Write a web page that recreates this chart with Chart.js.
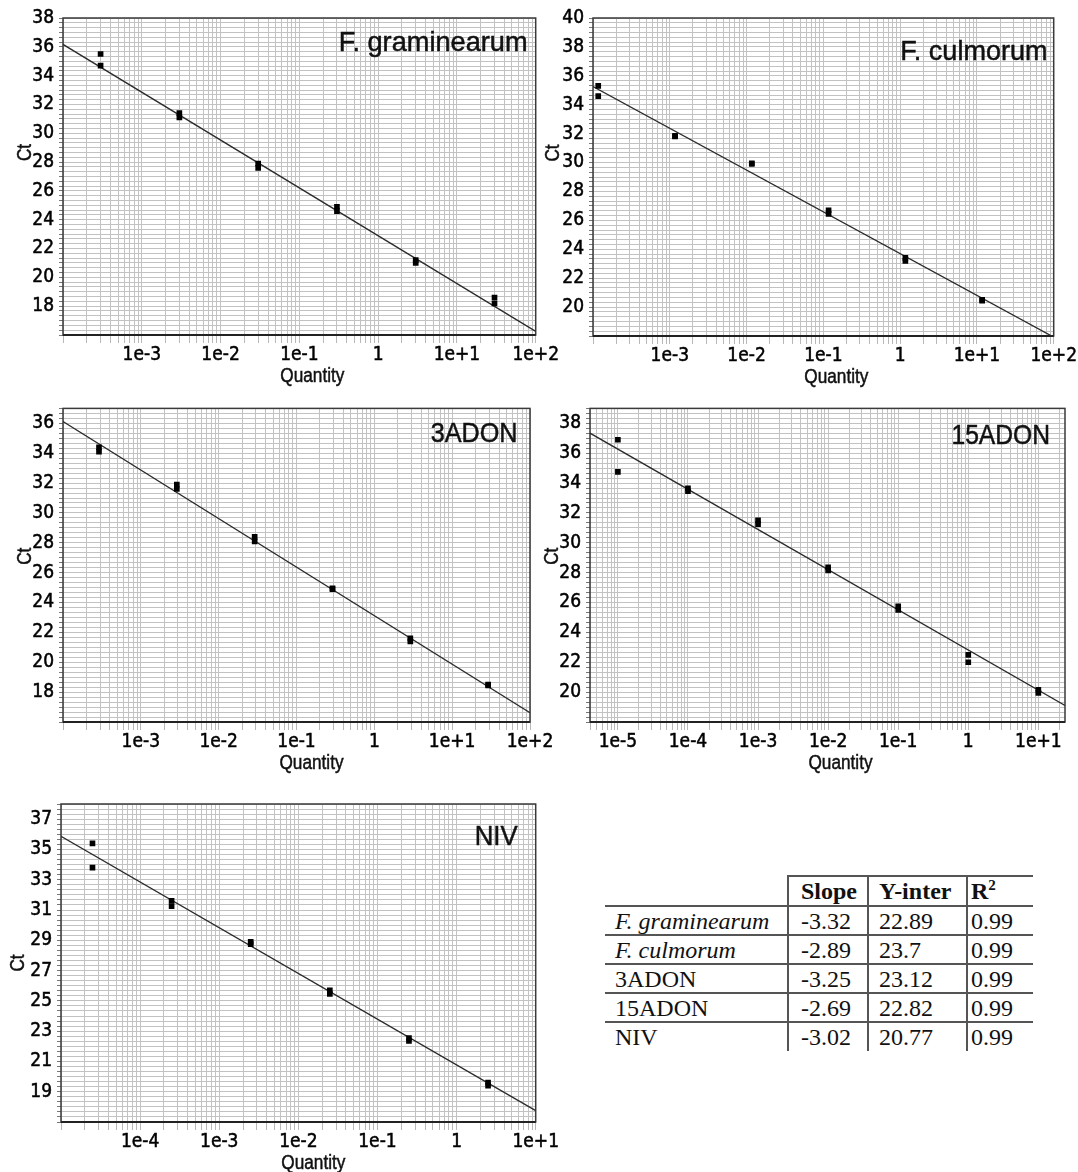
<!DOCTYPE html>
<html>
<head>
<meta charset="utf-8">
<script src="https://cdn.jsdelivr.net/npm/chart.js@4.4.1/dist/chart.umd.min.js"></script>
<style>
  html, body { margin: 0; padding: 0; background: #ffffff; }
  body { width: 1078px; height: 1172px; position: relative; overflow: hidden; }
  canvas { position: absolute; }
  .ptitle { position: absolute; color: #111; white-space: nowrap; line-height: 1; transform-origin: right center;
            -webkit-text-stroke: 0.5px #111; }
  #tbl { position: absolute; left: 605px; top: 875px; border-collapse: collapse; table-layout: fixed;
         font-family: 'Liberation Serif', 'Times New Roman', serif; font-size: 24px; color: #111; }
  #tbl td { padding: 0; height: 27px; border-top: 2px solid #555; border-left: 2px solid #555;
            vertical-align: middle; white-space: nowrap; line-height: 1; overflow: visible; }
  #tbl td.c1 { border-left: none; padding-left: 10px; }
  #tbl td.c2 { padding-left: 12px; }
  #tbl td.c3 { padding-left: 10px; }
  #tbl td.c4 { padding-left: 3px; }
  #tbl tr.hdr td { height: 28px; font-weight: bold; }
  #tbl tr.hdr td.c1 { border-top: none; }
  #tbl tr.last td { height: 28px; }
  #tbl sup { font-size: 15px; vertical-align: 9px; line-height: 0; }
</style>
</head>
<body>
<script>
// ---------------- data ----------------
const panelNames = ['F. graminearum', 'F. culmorum', '3ADON', '15ADON', 'NIV'];
const tableItalic = [true, true, false, false, false];
const slopes = [-3.32, -2.89, -3.25, -2.69, -3.02];
const intercepts = [22.89, 23.7, 23.12, 22.82, 20.77];
const r2 = ['0.99', '0.99', '0.99', '0.99', '0.99'];

const gramQty = [3e-4, 3e-4, 3e-3, 3e-3, 3e-2, 3e-2, 3e-1, 3e-1, 3, 3, 30, 30];
const gramCt  = [35.5, 34.7, 31.4, 31.1, 27.9, 27.6, 24.9, 24.6, 21.2, 21.0, 18.6, 18.2];

const culmQty = [1.17e-4, 1.17e-4, 1.17e-3, 1.17e-3, 1.17e-2, 1.17e-2, 1.17e-1, 1.17e-1, 1.17, 1.17, 11.7, 11.7];
const culmCt  = [35.3, 34.6, 31.85, 31.8, 29.95, 29.9, 26.7, 26.45, 23.4, 23.2, 20.5, 20.45];

const adon3Qty = [2.9e-4, 2.9e-4, 2.9e-3, 2.9e-3, 2.9e-2, 2.9e-2, 2.9e-1, 2.9e-1, 2.9, 2.9, 29, 29];
const adon3Ct  = [34.4, 34.1, 31.9, 31.6, 28.4, 28.1, 24.95, 24.9, 21.6, 21.4, 18.5, 18.45];

const adon15Qty = [1e-5, 1e-5, 1e-4, 1e-4, 1e-3, 1e-3, 1e-2, 1e-2, 1e-1, 1e-1, 1, 1, 10, 10];
const adon15Ct  = [36.9, 34.75, 33.65, 33.45, 31.5, 31.25, 28.35, 28.15, 25.75, 25.5, 22.5, 22.0, 20.15, 19.95];

const nivQty = [2.5e-5, 2.5e-5, 2.5e-4, 2.5e-4, 2.5e-3, 2.5e-3, 2.5e-2, 2.5e-2, 2.5e-1, 2.5e-1, 2.5, 2.5];
const nivCt  = [35.4, 33.8, 31.6, 31.25, 28.9, 28.75, 25.7, 25.45, 22.55, 22.35, 19.6, 19.4];

const gramYTicks   = [18, 20, 22, 24, 26, 28, 30, 32, 34, 36, 38];
const culmYTicks   = [20, 22, 24, 26, 28, 30, 32, 34, 36, 38, 40];
const adon3YTicks  = [18, 20, 22, 24, 26, 28, 30, 32, 34, 36];
const adon15YTicks = [20, 22, 24, 26, 28, 30, 32, 34, 36, 38];
const nivYTicks    = [19, 21, 23, 25, 27, 29, 31, 33, 35, 37];

const decadeTicks6   = [1e-3, 1e-2, 1e-1, 1, 1e1, 1e2];
const decadeLabels6  = ['1e-3', '1e-2', '1e-1', '1', '1e+1', '1e+2'];
const adon15XTicks   = [1e-5, 1e-4, 1e-3, 1e-2, 1e-1, 1, 1e1];
const adon15XLabels  = ['1e-5', '1e-4', '1e-3', '1e-2', '1e-1', '1', '1e+1'];
const nivXTicks      = [1e-4, 1e-3, 1e-2, 1e-1, 1, 1e1];
const nivXLabels     = ['1e-4', '1e-3', '1e-2', '1e-1', '1', '1e+1'];

const gramRange   = { x: [1e-4, 1e2], y: [16, 38] };
const culmRange   = { x: [1e-4, 1e2], y: [18, 40] };
const adon3Range  = { x: [1e-4, 1e2], y: [16, 37] };
const adon15Range = { x: [4e-6, 24],  y: [18, 39] };
const nivRange    = { x: [1e-5, 1e1], y: [17, 38] };

// ---------------- fonts ----------------
function hasFont(name) {
  const c = document.createElement('canvas').getContext('2d');
  const s = 'abcdefghijWWWmm0123';
  c.font = '40px monospace'; const a = c.measureText(s).width;
  c.font = '40px "' + name + '", monospace'; const b = c.measureText(s).width;
  return Math.abs(a - b) > 0.5;
}
const narrowName = ['Liberation Sans Narrow', 'Arial Narrow', 'Nimbus Sans Narrow', 'DejaVu Sans Condensed']
  .find(n => hasFont(n));
const SANS = '"Liberation Sans", Arial, sans-serif';
const TICK_FAMILY = narrowName ? '"' + narrowName + '", ' + SANS : SANS;
const TICK_SIZE = narrowName ? 19 : 17;

// ---------------- layout (page pixels) ----------------
const layouts = [
  { cL: 0,   cT: 0,   cW: 560, cH: 392, L: 63,  T: 18,  R: 537,  B: 335,  ctX: 25,  ctDy: -24, qDx: 13, tRight: 528,  tBase: 52,  tScale: 0.97 },
  { cL: 538, cT: 0,   cW: 540, cH: 392, L: 593, T: 18,  R: 1059, B: 336,  ctX: 553, ctDy: -24, qDx: 13, tRight: 1047, tBase: 61,  tScale: 0.965 },
  { cL: 0,   cT: 392, cW: 560, cH: 392, L: 63,  T: 405, R: 530,  B: 722,  ctX: 25,  ctDy: -9,  qDx: 15, tRight: 517,  tBase: 443, tScale: 0.90 },
  { cL: 538, cT: 392, cW: 540, cH: 392, L: 590, T: 405, R: 1065, B: 722,  ctX: 552, ctDy: -9,  qDx: 13, tRight: 1050, tBase: 445, tScale: 0.88 },
  { cL: 0,   cT: 784, cW: 560, cH: 388, L: 61,  T: 804, R: 536,  B: 1122, ctX: 18,  ctDy: 0,   qDx: 15, tRight: 518,  tBase: 846, tScale: 0.92 }
];

function logTicks(min, max) {
  const out = [];
  for (let e = Math.floor(Math.log10(min)); e <= Math.ceil(Math.log10(max)); e++) {
    for (let k = 1; k <= 9; k++) {
      const v = Number((k * Math.pow(10, e)).toPrecision(10));
      if (v >= min * (1 - 1e-9) && v <= max * (1 + 1e-9)) out.push(v);
    }
  }
  return out;
}

const framePlugin = {
  id: 'frame',
  beforeDatasetsDraw(chart) {
    const a = chart.chartArea, ctx = chart.ctx;
    ctx.save();
    ctx.strokeStyle = '#3a3a3a';
    ctx.lineWidth = 1.5;
    ctx.strokeRect(a.left, a.top, a.right - a.left, a.bottom - a.top);
    ctx.lineWidth = 2;
    ctx.strokeStyle = '#222';
    ctx.beginPath();
    ctx.moveTo(a.left, a.bottom); ctx.lineTo(a.right, a.bottom);
    ctx.stroke();
    ctx.restore();
  }
};

function heavyText(ctx, txt) {
  ctx.fillText(txt, 0, 0);
  ctx.lineWidth = 0.5;
  ctx.strokeStyle = '#111';
  ctx.strokeText(txt, 0, 0);
}

const axisTitlePlugin = {
  id: 'axisTitles',
  afterDraw(chart, args, opts) {
    const a = chart.chartArea, ctx = chart.ctx, lay = opts.lay;
    ctx.save();
    ctx.fillStyle = '#111';
    ctx.font = '20px ' + SANS;
    ctx.textAlign = 'center';
    ctx.textBaseline = 'middle';
    ctx.save();
    ctx.translate((a.left + a.right) / 2 + lay.qDx, a.bottom + 41);
    ctx.scale(0.86, 1);
    heavyText(ctx, 'Quantity');
    ctx.restore();
    ctx.translate(lay.ctX - lay.cL, (a.top + a.bottom) / 2 + lay.ctDy);
    ctx.rotate(-Math.PI / 2);
    ctx.scale(0.86, 1);
    heavyText(ctx, 'Ct');
    ctx.restore();
  }
};

function makePanel(i, qty, ct, range, yTickVals, xTickVals, xTickText) {
  const lay = layouts[i];
  const cv = document.createElement('canvas');
  cv.width = lay.cW; cv.height = lay.cH;
  cv.style.left = lay.cL + 'px'; cv.style.top = lay.cT + 'px';
  cv.style.width = lay.cW + 'px'; cv.style.height = lay.cH + 'px';
  document.body.appendChild(cv);

  const [xMin, xMax] = range.x;
  const [yMin, yMax] = range.y;
  const fit = [xMin, xMax].map(x => ({ x: x, y: intercepts[i] + slopes[i] * Math.log10(x) }));
  const pts = qty.map((x, j) => ({ x: x, y: ct[j] }));

  new Chart(cv, {
    type: 'scatter',
    data: {
      datasets: [
        { type: 'line', data: fit, borderColor: '#2a2a2a', borderWidth: 1.3, pointRadius: 0, fill: false, order: 2 },
        { data: pts, pointStyle: 'rect', pointRadius: 4, backgroundColor: '#000', borderWidth: 0, order: 1 }
      ]
    },
    options: {
      responsive: false, animation: false, devicePixelRatio: 1,
      layout: { padding: { top: lay.T - lay.cT, right: lay.cL + lay.cW - lay.R, left: 0, bottom: 0 } },
      plugins: { legend: { display: false }, tooltip: { enabled: false }, axisTitles: { lay: lay } },
      scales: {
        x: {
          type: 'logarithmic', min: xMin, max: xMax, position: 'bottom',
          afterBuildTicks: s => { s.ticks = logTicks(xMin, xMax).map(v => ({ value: v })); },
          afterFit: s => { s.height = lay.cT + lay.cH - lay.B; },
          ticks: {
            autoSkip: false, maxRotation: 0, minRotation: 0, padding: 1, color: '#000',
            textStrokeColor: '#000', textStrokeWidth: 0.5,
            font: { family: TICK_FAMILY, size: TICK_SIZE },
            callback: v => {
              const k = xTickVals.findIndex(t => Math.abs(Math.log10(t) - Math.log10(v)) < 1e-6);
              return k >= 0 ? xTickText[k] : '';
            }
          },
          grid: { color: '#c2c2c2', lineWidth: 1, tickLength: 8, tickColor: '#b8b8b8' },
          border: { display: false }
        },
        y: {
          type: 'linear', min: yMin, max: yMax,
          afterBuildTicks: s => {
            const n = Math.round((yMax - yMin) * 3);
            const t = [];
            for (let k = 0; k <= n; k++) t.push({ value: Math.round((yMin + k / 3) * 1e9) / 1e9 });
            s.ticks = t;
          },
          afterFit: s => { s.width = lay.L - lay.cL; },
          ticks: {
            autoSkip: false, padding: 5, color: '#000',
            textStrokeColor: '#000', textStrokeWidth: 0.5,
            font: { family: TICK_FAMILY, size: TICK_SIZE },
            callback: v => yTickVals.some(t => Math.abs(t - v) < 1e-6) ? String(Math.round(v)) : ''
          },
          grid: { color: '#c2c2c2', lineWidth: 1, tickLength: 4, tickColor: '#777' },
          border: { display: false }
        }
      }
    },
    plugins: [framePlugin, axisTitlePlugin]
  });

  const t = document.createElement('div');
  t.className = 'ptitle';
  t.textContent = panelNames[i];
  t.style.fontFamily = SANS;
  t.style.fontSize = '28px';
  t.style.transform = 'scaleX(' + lay.tScale + ')';
  t.style.right = (1078 - lay.tRight) + 'px';
  t.style.top = Math.round(lay.tBase - 0.846 * 28) + 'px';
  document.body.appendChild(t);
}

makePanel(0, gramQty, gramCt, gramRange, gramYTicks, decadeTicks6, decadeLabels6);
makePanel(1, culmQty, culmCt, culmRange, culmYTicks, decadeTicks6, decadeLabels6);
makePanel(2, adon3Qty, adon3Ct, adon3Range, adon3YTicks, decadeTicks6, decadeLabels6);
makePanel(3, adon15Qty, adon15Ct, adon15Range, adon15YTicks, adon15XTicks, adon15XLabels);
makePanel(4, nivQty, nivCt, nivRange, nivYTicks, nivXTicks, nivXLabels);

// ---------------- table ----------------
(function buildTable() {
  const tbl = document.createElement('table');
  tbl.id = 'tbl';
  const cg = document.createElement('colgroup');
  [183, 80, 99, 66].forEach(w => { const c = document.createElement('col'); c.style.width = w + 'px'; cg.appendChild(c); });
  tbl.appendChild(cg);
  const hdr = document.createElement('tr');
  hdr.className = 'hdr';
  hdr.innerHTML = '<td class="c1"></td><td class="c2">Slope</td><td class="c3">Y-inter</td><td class="c4">R<sup>2</sup></td>';
  tbl.appendChild(hdr);
  panelNames.forEach((name, i) => {
    const tr = document.createElement('tr');
    if (i === panelNames.length - 1) tr.className = 'last';
    const cells = [name, slopes[i].toFixed(2), String(intercepts[i]), r2[i]];
    cells.forEach((txt, j) => {
      const td = document.createElement('td');
      td.className = 'c' + (j + 1);
      td.textContent = txt;
      if (j === 0 && tableItalic[i]) td.style.fontStyle = 'italic';
      tr.appendChild(td);
    });
    tbl.appendChild(tr);
  });
  document.body.appendChild(tbl);
})();
</script>
</body>
</html>
